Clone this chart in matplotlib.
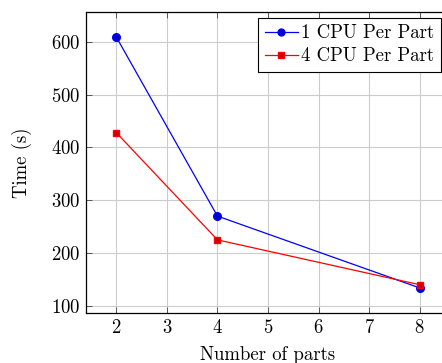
import matplotlib
matplotlib.use('Agg')
import matplotlib.pyplot as plt

plt.rcParams['font.family'] = 'cmr10'
plt.rcParams['mathtext.fontset'] = 'cm'
plt.rcParams['axes.formatter.use_mathtext'] = True

parts = [2, 4, 8]
one_cpu = [609, 270, 134]
four_cpu = [428, 225, 140]
xticks = [2, 3, 4, 5, 6, 7, 8]
yticks = [100, 200, 300, 400, 500, 600]

fs = 13.5

fig = plt.figure(figsize=(4.42, 3.63), dpi=100)
ax = fig.add_axes([86 / 442, 50 / 363, 364 / 442, 301 / 363])

ax.plot(parts, one_cpu, color='blue', lw=0.9, marker='o', ms=5.5,
        mfc=(0, 0, 0.8), mec='blue', label='1 CPU Per Part')
ax.plot(parts, four_cpu, color='red', lw=0.9, marker='s', ms=5,
        mfc=(0.8, 0, 0), mec='red', label='4 CPU Per Part')

ax.set_xlim(1.4, 8.6)
ax.set_ylim(86.5, 656.5)
ax.set_xticks(xticks)
ax.set_yticks(yticks)
ax.grid(True, color='#cccccc', lw=0.8)
ax.set_axisbelow(True)
ax.tick_params(direction='in', length=4, width=0.6, labelsize=fs,
               top=True, right=True, colors='#444444', labelcolor='black', pad=4)
for s in ax.spines.values():
    s.set_linewidth(0.9)

ax.set_xlabel('Number of parts', fontsize=fs, labelpad=7)
ax.set_ylabel('Time (s)', fontsize=fs, labelpad=14)

leg = ax.legend(loc='upper right', bbox_to_anchor=(441 / 442, 1 - 18 / 363),
                bbox_transform=fig.transFigure, fontsize=fs,
                fancybox=False, edgecolor='black', framealpha=1,
                borderpad=0.35, handlelength=1.75, labelspacing=0.25,
                handletextpad=0.2, borderaxespad=0, markerscale=0.9)
leg.get_frame().set_linewidth(0.8)

fig.savefig('out.png', dpi=100)
